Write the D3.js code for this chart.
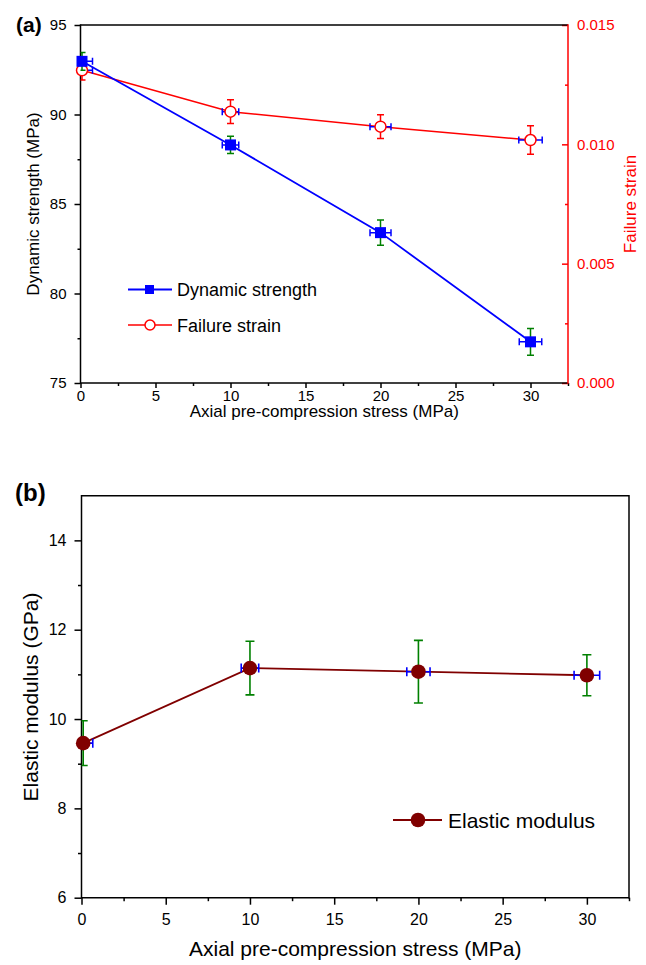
<!DOCTYPE html>
<html lang="en">
<head>
  <meta charset="UTF-8">
  <title>Axial pre-compression</title>
  <script src="https://d3js.org/d3.v7.min.js"></script>
  <style>
    body { margin: 0; background: #fff; }
    svg { font-family: "Liberation Sans", Arial, sans-serif; }
  </style>
</head>
<body>
<svg id="chart" width="646" height="965"></svg>
<script>
// data
const stress = [0.1, 10, 20, 30];
const stressErrStrength = [0.7, 0.55, 0.7, 0.75];
const stressErrStrain = [0.7, 0.55, 0.7, 0.78];
const stressErrModulus = [0.57, 0.52, 0.69, 0.76];

const strength = [92.97, 88.3, 83.4, 77.3];
const strengthErr = [0.5, 0.48, 0.7, 0.75];

const strain = [0.0131, 0.01137, 0.01074, 0.01018];
const strainErr = [0.0004, 0.0005, 0.0005, 0.0006];

const modulus = [9.46, 11.14, 11.06, 10.98];
const modulusErr = [0.5, 0.6, 0.7, 0.46];

const xMajor = [0, 5, 10, 15, 20, 25, 30];
const xMinor = [2.5, 7.5, 12.5, 17.5, 22.5, 27.5, 32.5];
const yStrengthTicks = [75, 80, 85, 90, 95];
const yStrengthMinor = [77.5, 82.5, 87.5, 92.5];
const yStrainTicks = [0, 0.005, 0.010, 0.015];
const yStrainMinor = [0.0025, 0.0075, 0.0125];
const yModulusTicks = [6, 8, 10, 12, 14];
const yModulusMinor = [7, 9, 11, 13];

const svg = d3.select("#chart");

function rows(ys, yerr, xerr) {
  return stress.map((s, i) => ({ x: s, y: ys[i], ye: yerr[i], xe: xerr[i] }));
}

function styleAxis(g, color, size) {
  g.select(".domain").remove();
  g.selectAll("line").attr("stroke", color).attr("stroke-width", 1.5);
  g.selectAll("text").attr("fill", color).style("font-size", size + "px").style("font-family", "Liberation Sans, Arial, sans-serif");
}

function frame(g, x, y, rightColor) {
  const [x0, x1] = x.range(), [y0, y1] = y.range();
  g.append("line").attr("x1", x0).attr("x2", x1).attr("y1", y1).attr("y2", y1).attr("stroke", "#000").attr("stroke-width", 1.5);
  g.append("line").attr("x1", x0).attr("x2", x1).attr("y1", y0).attr("y2", y0).attr("stroke", "#000").attr("stroke-width", 1.5);
  g.append("line").attr("x1", x0).attr("x2", x0).attr("y1", y0 + 0.75).attr("y2", y1 - 0.75).attr("stroke", "#000").attr("stroke-width", 1.5);
  g.append("line").attr("x1", x1).attr("x2", x1).attr("y1", y0 + 0.75).attr("y2", y1 - 0.75).attr("stroke", rightColor).attr("stroke-width", 1.5);
}

function errorBars(g, data, x, y, vColor, hColor, cap, width) {
  const eb = g.append("g").attr("fill", "none").attr("stroke-width", width);
  data.forEach(d => {
    const cx = x(d.x), cy = y(d.y);
    const top = y(d.y + d.ye), bot = y(d.y - d.ye);
    const l = x(d.x - d.xe), r = x(d.x + d.xe);
    eb.append("path")
      .attr("stroke", vColor)
      .attr("d", `M${cx},${top}V${bot}M${cx - cap},${top}H${cx + cap}M${cx - cap},${bot}H${cx + cap}`);
    eb.append("path")
      .attr("stroke", hColor)
      .attr("d", `M${l},${cy}H${r}M${l},${cy - cap}V${cy + cap}M${r},${cy - cap}V${cy + cap}`);
  });
  return eb;
}

// ---------- panel (a) ----------
const xA = d3.scaleLinear().domain([0, 32.5]).range([80.5, 568]);
const yA = d3.scaleLinear().domain([75, 95]).range([383, 25]);
const yA2 = d3.scaleLinear().domain([0, 0.015]).range([383, 25]);

const gA = svg.append("g");
svg.append("clipPath").attr("id", "clipA").append("rect")
  .attr("x", 80.5).attr("y", 25).attr("width", 568 - 80.5).attr("height", 383 - 25);

gA.append("g").attr("transform", "translate(0,383)")
  .call(d3.axisBottom(xA).tickValues(xMajor).tickSize(5).tickPadding(2))
  .call(g => styleAxis(g, "#000", 15));
gA.append("g").attr("transform", "translate(0,383)")
  .call(d3.axisBottom(xA).tickValues(xMinor).tickSize(3).tickFormat(() => ""))
  .call(g => styleAxis(g, "#000", 15));
gA.append("g").attr("transform", "translate(80.5,0)")
  .call(d3.axisLeft(yA).tickValues(yStrengthTicks).tickSize(6).tickPadding(8))
  .call(g => styleAxis(g, "#000", 15));
gA.append("g").attr("transform", "translate(80.5,0)")
  .call(d3.axisLeft(yA).tickValues(yStrengthMinor).tickSize(3).tickFormat(() => ""))
  .call(g => styleAxis(g, "#000", 15));
gA.append("g").attr("transform", "translate(568,0)")
  .call(d3.axisRight(yA2).tickValues(yStrainTicks).tickSize(-6).tickPadding(9).tickFormat(d3.format(".3f")))
  .call(g => styleAxis(g, "#ff0000", 15));
gA.append("g").attr("transform", "translate(568,0)")
  .call(d3.axisRight(yA2).tickValues(yStrainMinor).tickSize(-3).tickFormat(() => ""))
  .call(g => styleAxis(g, "#ff0000", 15));

frame(gA, xA, yA, "#ff0000");

const strengthRows = rows(strength, strengthErr, stressErrStrength);
const strainRows = rows(strain, strainErr, stressErrStrain);

gA.append("path").datum(strainRows)
  .attr("fill", "none").attr("stroke", "#ff0000").attr("stroke-width", 1.5)
  .attr("d", d3.line().x(d => xA(d.x)).y(d => yA2(d.y)));
gA.append("path").datum(strengthRows)
  .attr("fill", "none").attr("stroke", "#0000ff").attr("stroke-width", 1.8)
  .attr("d", d3.line().x(d => xA(d.x)).y(d => yA(d.y)));

errorBars(gA, strainRows, xA, yA2, "#ff0000", "#0000ff", 3.5, 1.5).attr("clip-path", "url(#clipA)");
gA.selectAll(".strain").data(strainRows).join("circle")
  .attr("cx", d => xA(d.x)).attr("cy", d => yA2(d.y)).attr("r", 5.5)
  .attr("fill", "#fff").attr("stroke", "#ff0000").attr("stroke-width", 1.5);

errorBars(gA, strengthRows, xA, yA, "#008000", "#0000ff", 3.5, 1.5).attr("clip-path", "url(#clipA)");
gA.selectAll(".strength").data(strengthRows).join("rect")
  .attr("x", d => xA(d.x) - 5.5).attr("y", d => yA(d.y) - 5.5)
  .attr("width", 11).attr("height", 11).attr("fill", "#0000ff");

// labels (a)
gA.append("text").attr("x", 16).attr("y", 32).attr("font-size", 21).attr("font-weight", "bold").text("(a)");
gA.append("text").attr("transform", "translate(39,204) rotate(-90)").attr("text-anchor", "middle")
  .attr("font-size", 17).text("Dynamic strength (MPa)");
gA.append("text").attr("transform", "translate(636,204) rotate(-90)").attr("text-anchor", "middle")
  .attr("font-size", 17).attr("fill", "#ff0000").text("Failure strain");
gA.append("text").attr("x", (80.5 + 568) / 2).attr("y", 417).attr("text-anchor", "middle")
  .attr("font-size", 17).text("Axial pre-compression stress (MPa)");

// legend (a)
const legA = gA.append("g");
legA.append("line").attr("x1", 128).attr("x2", 172).attr("y1", 289.5).attr("y2", 289.5).attr("stroke", "#0000ff").attr("stroke-width", 1.8);
legA.append("rect").attr("x", 145).attr("y", 285).attr("width", 9).attr("height", 9).attr("fill", "#0000ff");
legA.append("text").attr("x", 177).attr("y", 296).attr("font-size", 18).text("Dynamic strength");
legA.append("line").attr("x1", 128).attr("x2", 172).attr("y1", 325).attr("y2", 325).attr("stroke", "#ff0000").attr("stroke-width", 1.5);
legA.append("circle").attr("cx", 150).attr("cy", 325).attr("r", 5).attr("fill", "#fff").attr("stroke", "#ff0000").attr("stroke-width", 1.5);
legA.append("text").attr("x", 177).attr("y", 331.5).attr("font-size", 18).text("Failure strain");

// ---------- panel (b) ----------
const xB = d3.scaleLinear().domain([0, 32.5]).range([81.5, 629]);
const yB = d3.scaleLinear().domain([6, 15]).range([897.7, 495.7]);

const gB = svg.append("g");
svg.append("clipPath").attr("id", "clipB").append("rect")
  .attr("x", 81.5).attr("y", 495.7).attr("width", 629 - 81.5).attr("height", 897.7 - 495.7);

gB.append("g").attr("transform", "translate(0,897.7)")
  .call(d3.axisBottom(xB).tickValues(xMajor).tickSize(7).tickPadding(9))
  .call(g => styleAxis(g, "#000", 16));
gB.append("g").attr("transform", "translate(0,897.7)")
  .call(d3.axisBottom(xB).tickValues(xMinor).tickSize(3.5).tickFormat(() => ""))
  .call(g => styleAxis(g, "#000", 16));
gB.append("g").attr("transform", "translate(81.5,0)")
  .call(d3.axisLeft(yB).tickValues(yModulusTicks).tickSize(7).tickPadding(8))
  .call(g => styleAxis(g, "#000", 16));
gB.append("g").attr("transform", "translate(81.5,0)")
  .call(d3.axisLeft(yB).tickValues(yModulusMinor).tickSize(3.5).tickFormat(() => ""))
  .call(g => styleAxis(g, "#000", 16));

frame(gB, xB, yB, "#000");

const modulusRows = rows(modulus, modulusErr, stressErrModulus);

gB.append("path").datum(modulusRows)
  .attr("fill", "none").attr("stroke", "#800000").attr("stroke-width", 1.8)
  .attr("d", d3.line().x(d => xB(d.x)).y(d => yB(d.y)));
errorBars(gB, modulusRows, xB, yB, "#008000", "#0000ff", 4.5, 1.6).attr("clip-path", "url(#clipB)");
gB.selectAll(".modulus").data(modulusRows).join("circle")
  .attr("cx", d => xB(d.x)).attr("cy", d => yB(d.y)).attr("r", 7.3)
  .attr("fill", "#800000");

gB.append("text").attr("x", 15).attr("y", 501).attr("font-size", 24).attr("font-weight", "bold").text("(b)");
gB.append("text").attr("transform", "translate(38,697) rotate(-90)").attr("text-anchor", "middle")
  .attr("font-size", 21).text("Elastic modulus (GPa)");
gB.append("text").attr("x", (81.5 + 629) / 2).attr("y", 956).attr("text-anchor", "middle")
  .attr("font-size", 21).text("Axial pre-compression stress (MPa)");

const legB = gB.append("g");
legB.append("line").attr("x1", 393).attr("x2", 442).attr("y1", 820).attr("y2", 820).attr("stroke", "#800000").attr("stroke-width", 1.8);
legB.append("circle").attr("cx", 418).attr("cy", 820).attr("r", 7.3).attr("fill", "#800000");
legB.append("text").attr("x", 448).attr("y", 827.5).attr("font-size", 21).text("Elastic modulus");
</script>
</body>
</html>
